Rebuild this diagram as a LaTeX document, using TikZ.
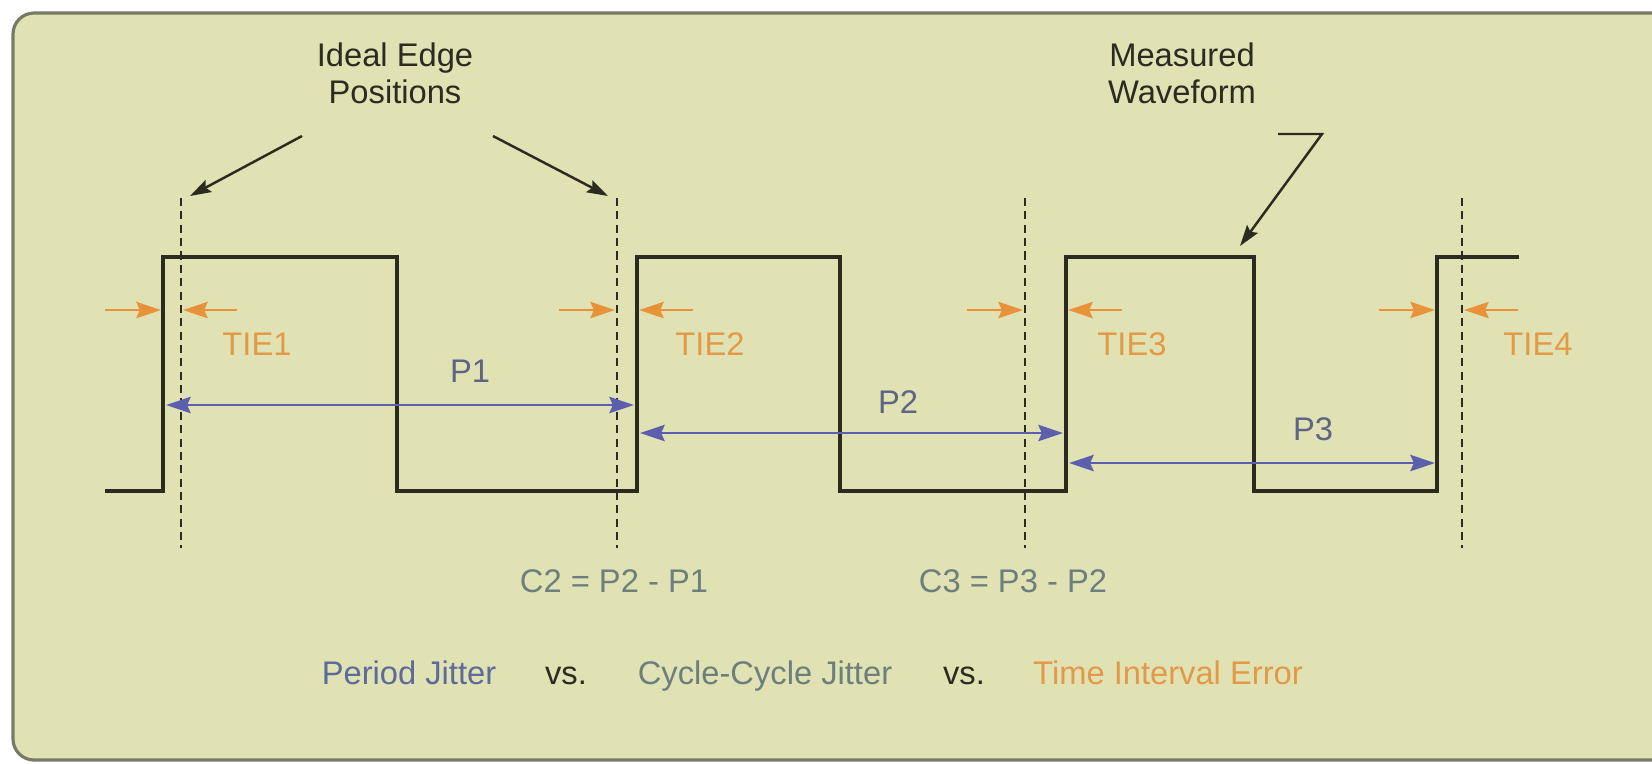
\documentclass[tikz,border=0pt]{standalone}
\usepackage{fontspec}
\setmainfont{Liberation Sans}
\usetikzlibrary{arrows.meta}

\definecolor{panelfill}{HTML}{E0E2B3}
\definecolor{panelline}{HTML}{777A66}
\definecolor{inkc}{HTML}{2B2B22}
\definecolor{tiec}{HTML}{E8923A}
\definecolor{tietext}{HTML}{E39A48}
\definecolor{perc}{HTML}{5B5FAE}
\definecolor{pertext}{HTML}{5E6484}
\definecolor{cyctext}{HTML}{6C7F7C}
\definecolor{jittext}{HTML}{5D6A9A}

\tikzset{
  panel/.style={draw=panelline, line width=0.9pt, rounded corners=6pt},
  wave/.style={draw=inkc, line width=1pt},
  ideal/.style={draw=inkc, line width=0.6pt, dash pattern=on 2.3pt off 1.5pt},
  tiearrow/.style={draw=tiec, line width=0.75pt, -{Stealth[length=7pt,width=4.6pt,inset=1pt]}},
  perarrow/.style={draw=perc, line width=0.8pt, {Stealth[length=7pt,width=4.6pt,inset=1pt]}-{Stealth[length=7pt,width=4.6pt,inset=1pt]}},
  callout/.style={draw=inkc, line width=0.7pt, -{Stealth[length=6pt,width=3.8pt,inset=1pt]}},
  lbl/.style={anchor=base, inner sep=0pt, font=\fontsize{9.3}{10.5}\selectfont},
}

\begin{document}
\begin{tikzpicture}[x=0.01cm, y=-0.01cm]
    \useasboundingbox (0,0) rectangle (1652,763);

    % panel, open on the right
    \fill[panelfill, rounded corners=6pt] (13,13) rectangle (1652,760);
    \fill[panelfill] (1600,13) rectangle (1652,760);
    \draw[panel] (1652,13) -- (13,13) -- (13,760) -- (1652,760);

    % ideal edges
    \foreach \x in {181,617,1025,1462}
        \draw[ideal] (\x,198) -- (\x,548);

    % measured waveform
    \draw[wave] (105,491) -- (163,491) -- (163,257) -- (397,257) -- (397,491)
        -- (637,491) -- (637,257) -- (840,257) -- (840,491)
        -- (1066,491) -- (1066,257) -- (1254,257) -- (1254,491)
        -- (1437,491) -- (1437,257) -- (1519,257);

    % time interval error
    \foreach \i/\a/\b/\lx in {1/163/181/257, 2/617/637/710, 3/1025/1066/1132, 4/1437/1462/1538} {
        \coordinate (tie\i ra) at ({\a-58},310);
        \coordinate (tie\i rb) at ({\a-2},310);
        \coordinate (tie\i la) at ({\b+56},310);
        \coordinate (tie\i lb) at ({\b+2},310);
        \draw[tiearrow] (tie\i ra) -- (tie\i rb);
        \draw[tiearrow] (tie\i la) -- (tie\i lb);
        \node[lbl, text=tietext] (tie\i) at (\lx,355) {TIE\i};
    }

    % periods
    \coordinate (p1a) at (166,405);  \coordinate (p1b) at (634,405);
    \coordinate (p2a) at (640,433);  \coordinate (p2b) at (1063,433);
    \coordinate (p3a) at (1069,463); \coordinate (p3b) at (1435,463);
    \draw[perarrow] (p1a) -- (p1b);
    \draw[perarrow] (p2a) -- (p2b);
    \draw[perarrow] (p3a) -- (p3b);
    \node[lbl, text=pertext] (p1) at (470,382) {P1};
    \node[lbl, text=pertext] (p2) at (898,413) {P2};
    \node[lbl, text=pertext] (p3) at (1313,440) {P3};

    % cycle-cycle
    \node[lbl, text=cyctext] (c2) at (614,592) {C2 = P2 - P1};
    \node[lbl, text=cyctext] (c3) at (1013,592) {C3 = P3 - P2};

    % callouts
    \node[lbl, text=inkc, align=center] (ideal) at (395,103) {Ideal Edge\\Positions};
    \coordinate (ideal-l) at (302,136); \coordinate (id-l) at (190,196);
    \coordinate (ideal-r) at (493,136); \coordinate (id-r) at (608,196);
    \draw[callout] (ideal-l) -- (id-l);
    \draw[callout] (ideal-r) -- (id-r);

    \node[lbl, text=inkc, align=center] (meas) at (1182,103) {Measured\\Waveform};
    \coordinate (meas-a) at (1278,134); \coordinate (meas-b) at (1322,134);
    \coordinate (meas-tip) at (1240,246);
    \draw[callout] (meas-a) -- (meas-b) -- (meas-tip);

    % legend
    \node[lbl, text=jittext] (jper) at (409,684) {Period Jitter};
    \node[lbl, text=inkc] (vs1) at (566,684) {vs.};
    \node[lbl, text=cyctext] (jcyc) at (765,684) {Cycle-Cycle Jitter};
    \node[lbl, text=inkc] (vs2) at (964,684) {vs.};
    \node[lbl, text=tietext] (jtie) at (1168,684) {Time Interval Error};
\end{tikzpicture}
\end{document}
